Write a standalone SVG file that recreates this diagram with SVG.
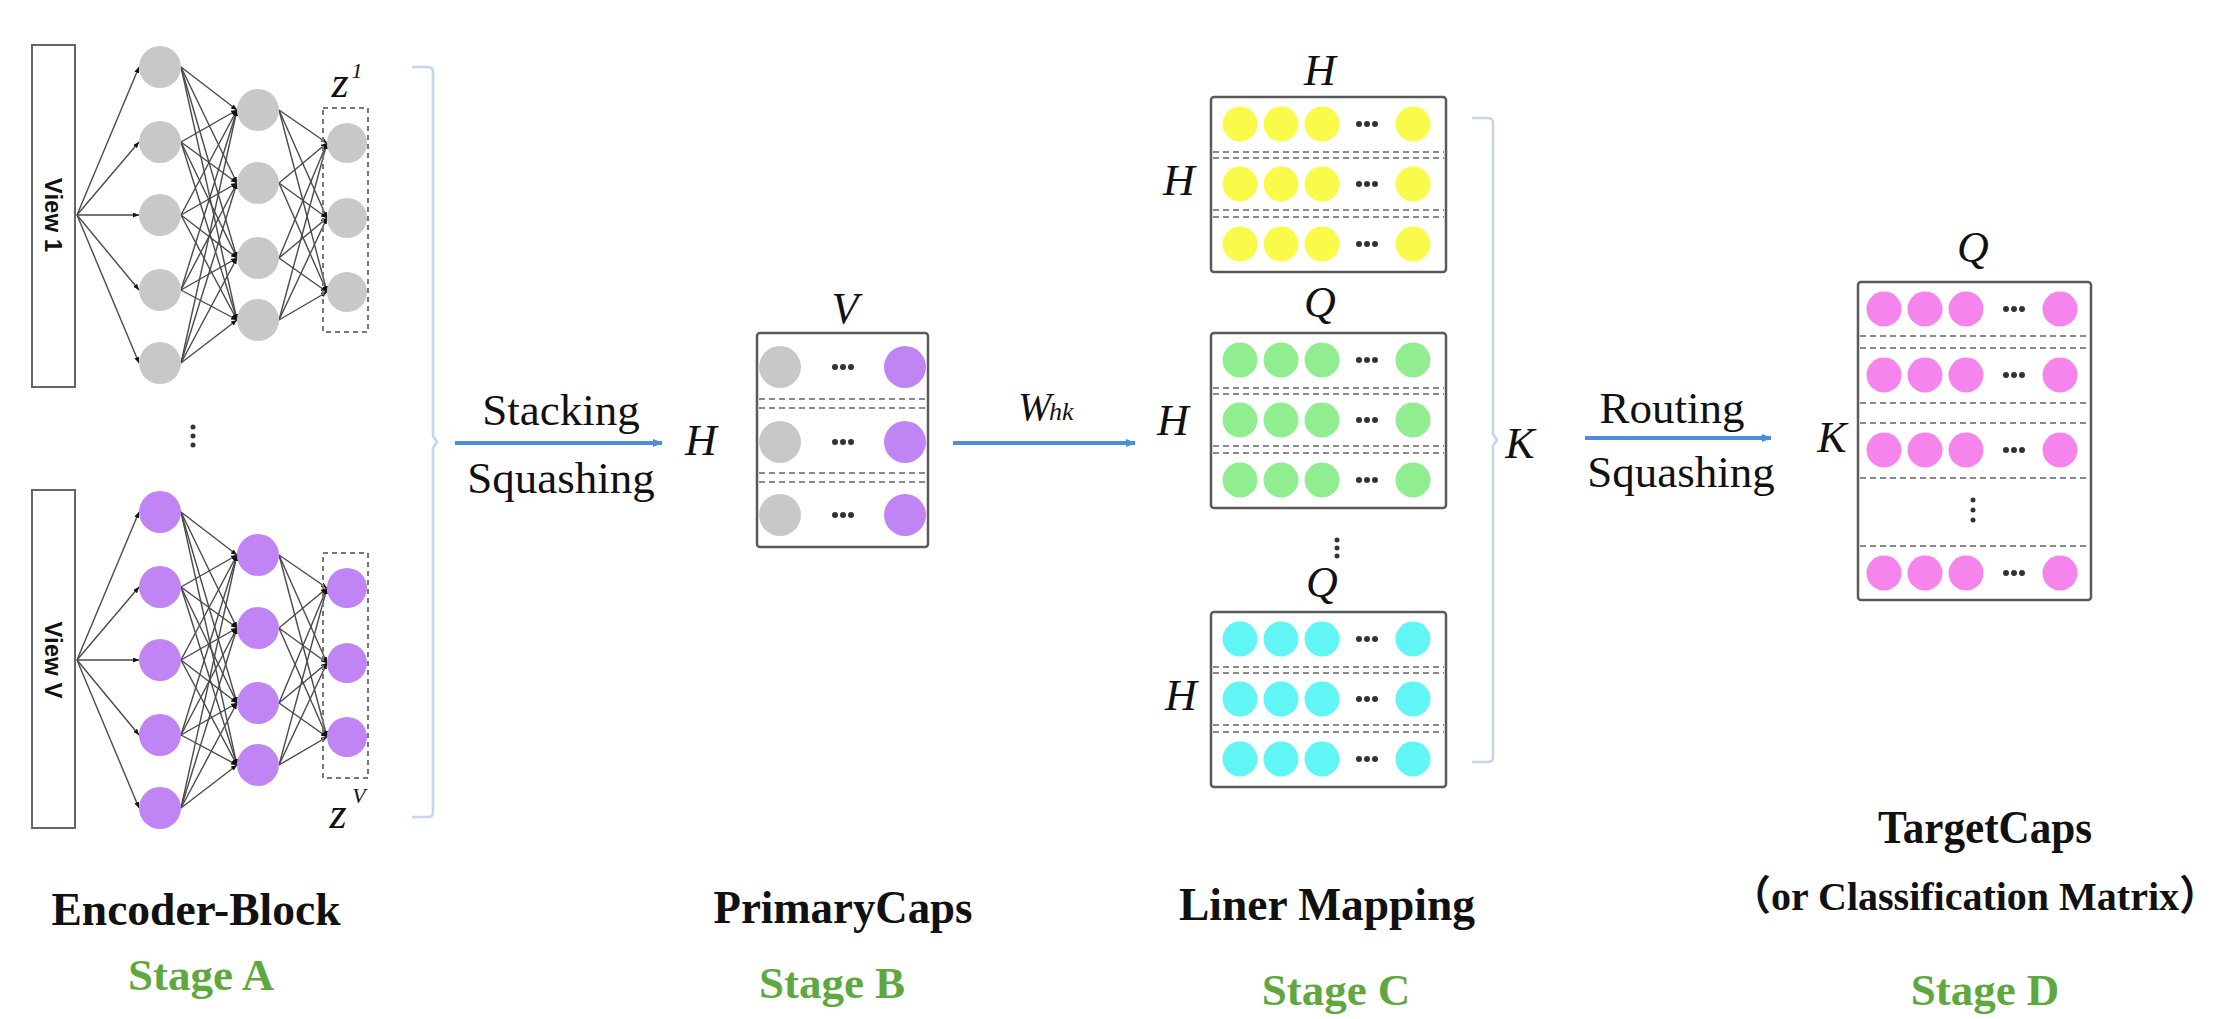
<svg xmlns="http://www.w3.org/2000/svg" xmlns:xlink="http://www.w3.org/1999/xlink" width="2232" height="1019" viewBox="0 0 2232 1019">
<style>
text{font-family:"Liberation Serif","Noto Sans CJK SC",serif;fill:#111}
.it{font-style:italic;font-size:44px}
.b{font-weight:bold;font-size:46px}
.stg{fill:#5fa83f;font-weight:bold;font-size:45px}
.view{font-family:"Liberation Sans",sans-serif;font-weight:bold;font-size:24px}
.box{fill:#fff;stroke:#5a5a5a;stroke-width:2.5}
.vbox{fill:#fff;stroke:#666;stroke-width:2}
.sep{stroke:#8a8a8a;stroke-width:2;stroke-dasharray:6 4}
.zbox{fill:none;stroke:#777;stroke-width:2;stroke-dasharray:5 4}
.gray{fill:#c8c8c8}.pur{fill:#c084f5}.yel{fill:#fafa4a}.grn{fill:#90ee90}.cyn{fill:#62f5f5}.pnk{fill:#f585ec}
.dot{fill:#333}
.net line{stroke:#4a4a4a;stroke-width:1.4;marker-end:url(#tip)}
.arr{stroke:#4a8fd8;stroke-width:4;marker-end:url(#ab)}
.br{fill:none;stroke:#c5d5ea;stroke-width:2.5}
</style>
<defs>
<marker id="tip" markerUnits="userSpaceOnUse" markerWidth="6" markerHeight="5" refX="6" refY="2.5" orient="auto"><path d="M0,0 L6,2.5 L0,5 z" fill="#111"/></marker>
<marker id="ab" markerUnits="userSpaceOnUse" markerWidth="10" markerHeight="8" refX="9" refY="4" orient="auto"><path d="M0,0 L10,4 L0,8 z" fill="#4a8fd8"/></marker>
<g id="netlines" class="net">
<line x1="77" y1="215" x2="139" y2="67"/><line x1="77" y1="215" x2="139" y2="142"/><line x1="77" y1="215" x2="139" y2="215"/><line x1="77" y1="215" x2="139" y2="290"/><line x1="77" y1="215" x2="139" y2="363"/>
<line x1="181" y1="67" x2="237" y2="110"/><line x1="181" y1="67" x2="237" y2="183"/><line x1="181" y1="67" x2="237" y2="258"/><line x1="181" y1="67" x2="237" y2="320"/>
<line x1="181" y1="142" x2="237" y2="110"/><line x1="181" y1="142" x2="237" y2="183"/><line x1="181" y1="142" x2="237" y2="258"/><line x1="181" y1="142" x2="237" y2="320"/>
<line x1="181" y1="215" x2="237" y2="110"/><line x1="181" y1="215" x2="237" y2="183"/><line x1="181" y1="215" x2="237" y2="258"/><line x1="181" y1="215" x2="237" y2="320"/>
<line x1="181" y1="290" x2="237" y2="110"/><line x1="181" y1="290" x2="237" y2="183"/><line x1="181" y1="290" x2="237" y2="258"/><line x1="181" y1="290" x2="237" y2="320"/>
<line x1="181" y1="363" x2="237" y2="110"/><line x1="181" y1="363" x2="237" y2="183"/><line x1="181" y1="363" x2="237" y2="258"/><line x1="181" y1="363" x2="237" y2="320"/>
<line x1="279" y1="110" x2="327" y2="143"/><line x1="279" y1="110" x2="327" y2="218"/><line x1="279" y1="110" x2="327" y2="292"/>
<line x1="279" y1="183" x2="327" y2="143"/><line x1="279" y1="183" x2="327" y2="218"/><line x1="279" y1="183" x2="327" y2="292"/>
<line x1="279" y1="258" x2="327" y2="143"/><line x1="279" y1="258" x2="327" y2="218"/><line x1="279" y1="258" x2="327" y2="292"/>
<line x1="279" y1="320" x2="327" y2="143"/><line x1="279" y1="320" x2="327" y2="218"/><line x1="279" y1="320" x2="327" y2="292"/>
</g>
<g id="netnodes">
<circle cx="160" cy="67" r="21"/><circle cx="160" cy="142" r="21"/><circle cx="160" cy="215" r="21"/><circle cx="160" cy="290" r="21"/><circle cx="160" cy="363" r="21"/>
<circle cx="258" cy="110" r="21"/><circle cx="258" cy="183" r="21"/><circle cx="258" cy="258" r="21"/><circle cx="258" cy="320" r="21"/>
<circle cx="347" cy="143" r="20"/><circle cx="347" cy="218" r="20"/><circle cx="347" cy="292" r="20"/>
</g>
<g id="boxC">
<rect class="box" x="1211" y="0" width="235" height="175" rx="3"/>
<line class="sep" x1="1213" y1="55" x2="1444" y2="55"/><line class="sep" x1="1213" y1="61" x2="1444" y2="61"/>
<line class="sep" x1="1213" y1="113" x2="1444" y2="113"/><line class="sep" x1="1213" y1="120" x2="1444" y2="120"/>
</g>
<g id="rowC">
<circle cx="1240" cy="0" r="17.5"/><circle cx="1281" cy="0" r="17.5"/><circle cx="1322" cy="0" r="17.5"/><circle cx="1413" cy="0" r="17.5"/>
<circle class="dot" cx="1359" cy="0" r="3"/><circle class="dot" cx="1367" cy="0" r="3"/><circle class="dot" cx="1375" cy="0" r="3"/>
</g>
<g id="rowD">
<circle cx="1884" cy="0" r="17.5"/><circle cx="1925" cy="0" r="17.5"/><circle cx="1966" cy="0" r="17.5"/><circle cx="2060" cy="0" r="17.5"/>
<circle class="dot" cx="2006" cy="0" r="3"/><circle class="dot" cx="2014" cy="0" r="3"/><circle class="dot" cx="2022" cy="0" r="3"/>
</g>
<g id="rowB">
<circle class="gray" cx="780" cy="0" r="21"/><circle class="pur" cx="905" cy="0" r="21"/>
<circle class="dot" cx="835" cy="0" r="3"/><circle class="dot" cx="843" cy="0" r="3"/><circle class="dot" cx="851" cy="0" r="3"/>
</g>
</defs>
<rect width="2232" height="1019" fill="#fff"/>

<g id="encoder-view1">
<rect class="vbox" x="32" y="45" width="43" height="342"/>
<text class="view" transform="translate(53,215) rotate(90)" text-anchor="middle" dominant-baseline="central">View 1</text>
<use href="#netlines"/>
<use href="#netnodes" class="gray"/>
<rect class="zbox" x="323" y="108" width="45" height="224"/>
<text class="it" x="340" y="97" text-anchor="middle">z</text>
<text class="it" x="357" y="78" text-anchor="middle" style="font-size:22px">1</text>
</g>

<g id="encoder-ellipsis">
<circle class="dot" cx="193" cy="427" r="2.5"/><circle class="dot" cx="193" cy="436" r="2.5"/><circle class="dot" cx="193" cy="445" r="2.5"/>
</g>

<g id="encoder-viewV">
<rect class="vbox" x="32" y="490" width="43" height="338"/>
<text class="view" transform="translate(53,660) rotate(90)" text-anchor="middle" dominant-baseline="central">View V</text>
<use href="#netlines" y="445"/>
<use href="#netnodes" y="445" class="pur"/>
<rect class="zbox" x="323" y="553" width="45" height="225"/>
<text class="it" x="338" y="828" text-anchor="middle">z</text>
<text class="it" x="359" y="803" text-anchor="middle" style="font-size:22px">V</text>
</g>

<g id="primarycaps">
<rect class="box" x="757" y="333" width="171" height="214" rx="3"/>
<line class="sep" x1="759" y1="399" x2="926" y2="399"/><line class="sep" x1="759" y1="408" x2="926" y2="408"/>
<line class="sep" x1="759" y1="473" x2="926" y2="473"/><line class="sep" x1="759" y1="482" x2="926" y2="482"/>
<use href="#rowB" y="367"/><use href="#rowB" y="442"/><use href="#rowB" y="515"/>
<text class="it" x="845" y="323" text-anchor="middle">V</text>
<text class="it" x="701" y="455" text-anchor="middle">H</text>
</g>

<g id="liner-yellow">
<use href="#boxC" y="97"/>
<use href="#rowC" y="124" class="yel"/><use href="#rowC" y="184" class="yel"/><use href="#rowC" y="244" class="yel"/>
<text class="it" x="1320" y="85" text-anchor="middle">H</text>
<text class="it" x="1179" y="195" text-anchor="middle">H</text>
</g>
<g id="liner-green">
<use href="#boxC" y="333"/>
<use href="#rowC" y="360" class="grn"/><use href="#rowC" y="420" class="grn"/><use href="#rowC" y="480" class="grn"/>
<text class="it" x="1320" y="317" text-anchor="middle">Q</text>
<text class="it" x="1173" y="435" text-anchor="middle">H</text>
</g>
<g id="liner-ellipsis">
<circle class="dot" cx="1337" cy="540" r="2.5"/><circle class="dot" cx="1337" cy="548" r="2.5"/><circle class="dot" cx="1337" cy="556" r="2.5"/>
</g>
<g id="liner-cyan">
<use href="#boxC" y="612"/>
<use href="#rowC" y="639" class="cyn"/><use href="#rowC" y="699" class="cyn"/><use href="#rowC" y="759" class="cyn"/>
<text class="it" x="1322" y="597" text-anchor="middle">Q</text>
<text class="it" x="1181" y="710" text-anchor="middle">H</text>
</g>
<text class="it" x="1520" y="458" text-anchor="middle">K</text>

<g id="targetcaps">
<rect class="box" x="1858" y="282" width="233" height="318" rx="3"/>
<line class="sep" x1="1860" y1="336" x2="2089" y2="336"/><line class="sep" x1="1860" y1="348" x2="2089" y2="348"/>
<line class="sep" x1="1860" y1="403" x2="2089" y2="403"/><line class="sep" x1="1860" y1="423" x2="2089" y2="423"/>
<line class="sep" x1="1860" y1="478" x2="2089" y2="478"/>
<line class="sep" x1="1860" y1="546" x2="2089" y2="546"/>
<use href="#rowD" y="309" class="pnk"/><use href="#rowD" y="375" class="pnk"/><use href="#rowD" y="450" class="pnk"/><use href="#rowD" y="573" class="pnk"/>
<circle class="dot" cx="1973" cy="500" r="2.5"/><circle class="dot" cx="1973" cy="510" r="2.5"/><circle class="dot" cx="1973" cy="520" r="2.5"/>
<text class="it" x="1973" y="262" text-anchor="middle">Q</text>
<text class="it" x="1832" y="452" text-anchor="middle">K</text>
</g>

<g id="connectors">
<path class="br" d="M412,67 L428,67 Q433,67 433,72 L433,436 L437,442 L433,448 L433,812 Q433,817 428,817 L412,817"/>
<path class="br" d="M1472,118 L1488,118 Q1493,118 1493,123 L1493,434 L1497,440 L1493,446 L1493,757 Q1493,762 1488,762 L1472,762"/>
<line class="arr" x1="455" y1="443" x2="662" y2="443"/>
<line class="arr" x1="953" y1="443" x2="1135" y2="443"/>
<line class="arr" x1="1585" y1="438" x2="1771" y2="438"/>
<text x="561" y="425" text-anchor="middle" font-size="45">Stacking</text>
<text x="561" y="493" text-anchor="middle" font-size="45">Squashing</text>
<text class="it" x="1018" y="420" style="font-size:40px">W</text>
<text class="it" x="1049" y="420" style="font-size:26px">hk</text>
<text x="1672" y="423" text-anchor="middle" font-size="45">Routing</text>
<text x="1681" y="487" text-anchor="middle" font-size="45">Squashing</text>
</g>

<g id="captions">
<text class="b" x="196" y="925" text-anchor="middle" textLength="289" lengthAdjust="spacingAndGlyphs">Encoder-Block</text>
<text class="stg" x="201" y="990" text-anchor="middle">Stage A</text>
<text class="b" x="843" y="923" text-anchor="middle" textLength="259" lengthAdjust="spacingAndGlyphs">PrimaryCaps</text>
<text class="stg" x="832" y="998" text-anchor="middle">Stage B</text>
<text class="b" x="1327" y="920" text-anchor="middle" textLength="296" lengthAdjust="spacingAndGlyphs">Liner Mapping</text>
<text class="stg" x="1336" y="1005" text-anchor="middle">Stage C</text>
<text class="b" x="1985" y="843" text-anchor="middle" textLength="214" lengthAdjust="spacingAndGlyphs">TargetCaps</text>
<text class="b" x="1975" y="910" text-anchor="middle" style="font-size:41px" textLength="488" lengthAdjust="spacingAndGlyphs">（or Classification Matrix）</text>
<text class="stg" x="1985" y="1005" text-anchor="middle">Stage D</text>
</g>
</svg>
